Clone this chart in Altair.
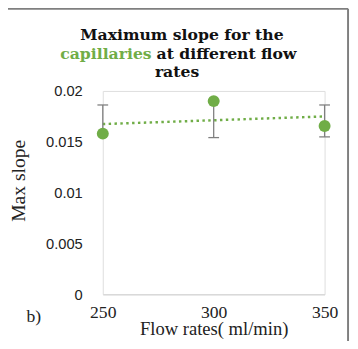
import altair as alt
import pandas as pd

flow = [250, 300, 350]
max_slope = [0.0158, 0.0190, 0.01655]
err_low = [0.0158, 0.01541, 0.01548]
err_high = [0.01862, 0.0190, 0.01862]
y_ticks = [0, 0.005, 0.01, 0.015, 0.02]
x_ticks = [250, 300, 350]

df = pd.DataFrame({"flow": flow, "slope": max_slope, "low": err_low, "high": err_high})

GREEN = "#70ad47"
GRAY = "#7f7f7f"
SERIF = "Liberation Serif"
TFONT = "DejaVu Serif"
INK = "#222"

x_enc = alt.X("flow:Q", scale=alt.Scale(domain=[250, 350], nice=False),
              axis=alt.Axis(values=x_ticks, title=None, grid=False, ticks=False, labelFlush=False,
                            domainColor="#d9d9d9", domainWidth=1.5, labelFont=SERIF, labelFontSize=18,
                            labelColor=INK, labelBaseline="alphabetic", labelPadding=24))
y_scale = alt.Scale(domain=[0, 0.02], nice=False)
y_axis = alt.Axis(values=y_ticks, labelExpr="format(datum.value, '~g')", grid=False, ticks=False,
                  domain=False, labelFlush=False, labelFont="Liberation Sans", labelFontSize=15,
                  labelColor=INK, labelPadding=21, title=None)

base = alt.Chart(df)

trend = base.transform_regression("flow", "slope").mark_line(
    color=GREEN, strokeDash=[2.5, 3.5], strokeWidth=2.5
).encode(x=x_enc, y=alt.Y("slope:Q", scale=y_scale, axis=y_axis))

bars = base.mark_rule(color=GRAY, strokeWidth=1.3).encode(x="flow:Q", y="low:Q", y2="high:Q")
cap_hi = base.mark_rule(color=GRAY, strokeWidth=1.3, xOffset=-5.5, x2Offset=5.5).encode(
    x="flow:Q", x2="flow:Q", y="high:Q")
cap_lo = base.mark_rule(color=GRAY, strokeWidth=1.3, xOffset=-5.5, x2Offset=5.5).encode(
    x="flow:Q", x2="flow:Q", y="low:Q")
points = base.mark_circle(color=GREEN, size=150, opacity=1).encode(x="flow:Q", y="slope:Q")

one = pd.DataFrame({"a": [0]})
tb = alt.Chart(one)
TS = 16
t1 = tb.mark_text(text="Maximum slope for the", font=TFONT, fontWeight="bold", fontSize=TS,
                  color="#111", align="center", baseline="alphabetic").encode(
    x=alt.value(81), y=alt.value(-52))
t2a = tb.mark_text(text="capillaries", font=TFONT, fontWeight="bold", fontSize=TS,
                   color=GREEN, align="right", baseline="alphabetic").encode(
    x=alt.value(50), y=alt.value(-33))
t2b = tb.mark_text(text="at different flow", font=TFONT, fontWeight="bold", fontSize=TS,
                   color="#111", align="left", baseline="alphabetic").encode(
    x=alt.value(55), y=alt.value(-33))
t3 = tb.mark_text(text="rates", font=TFONT, fontWeight="bold", fontSize=TS,
                  color="#111", align="center", baseline="alphabetic").encode(
    x=alt.value(76), y=alt.value(-14))
tbl = tb.mark_text(text="b)", font=SERIF, fontSize=18, color=INK, align="left",
                   baseline="alphabetic").encode(x=alt.value(-78), y=alt.value(236))
xt = tb.mark_text(text="Flow rates( ml/min)", font=SERIF, fontSize=19, color=INK, align="center",
                  baseline="alphabetic").encode(x=alt.value(114), y=alt.value(250))
yt = tb.mark_text(text="Max slope", font=SERIF, fontSize=20, color=INK, align="center",
                  baseline="middle", angle=270).encode(x=alt.value(-86), y=alt.value(92))

frame_top = tb.mark_rule(color=GRAY, strokeWidth=2).encode(
    x=alt.value(-102), x2=alt.value(251), y=alt.value(-84))
frame_left = tb.mark_rule(color=GRAY, strokeWidth=2).encode(
    x=alt.value(-102), y=alt.value(-84), y2=alt.value(260))
frame_right = tb.mark_rule(color=GRAY, strokeWidth=2).encode(
    x=alt.value(251), y=alt.value(-84), y2=alt.value(260))

chart = alt.layer(trend, bars, cap_hi, cap_lo, points, t1, t2a, t2b, t3, tbl, xt, yt,
                  frame_top, frame_left, frame_right).properties(
    width=227, height=208, autosize=alt.AutoSizeParams(type="none"),
    padding={"left": 97, "top": 81, "right": 26, "bottom": 44}
).configure_view(stroke=None).configure(background="white")

chart.save("out.html", embed_options={"renderer": "svg", "actions": False})
